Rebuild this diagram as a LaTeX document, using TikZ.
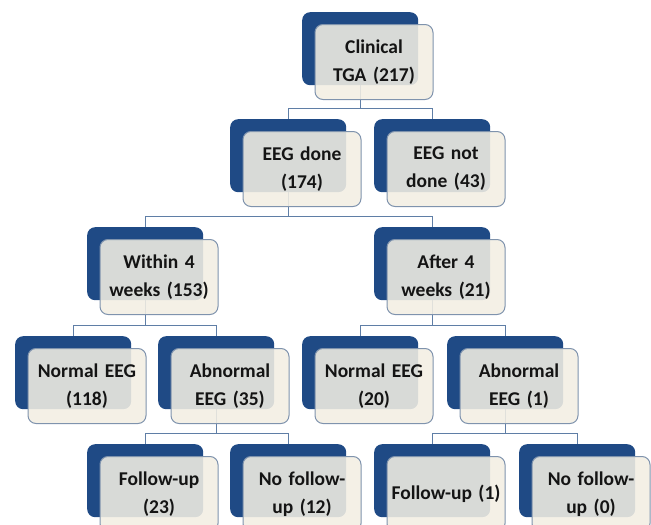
\documentclass[tikz,border=0pt]{standalone}
\usepackage{fontspec}
\setmainfont{Carlito}
\definecolor{backblue}{HTML}{1F4A85}
\definecolor{frontfill}{HTML}{F2EEE3}
\definecolor{frontline}{HTML}{7F93AD}
\definecolor{connline}{HTML}{5F7EA6}
\definecolor{txt}{HTML}{141414}
\tikzset{
  backbox/.style={anchor=north west, fill=backblue, rounded corners=8pt, minimum width=116pt, minimum height=73pt, inner sep=0pt},
  frontbox/.style={anchor=north west, fill=frontfill, fill opacity=0.88, text opacity=1, draw=frontline, line width=1pt, rounded corners=8pt, minimum width=118pt, minimum height=75pt, inner sep=0pt, text width=116pt, align=center, font=\bfseries\fontsize{19.5pt}{28pt}\selectfont, text=txt},
  conn/.style={draw=connline, line width=1pt}
}
\begin{document}
\begin{tikzpicture}[x=1pt,y=-1pt]
\useasboundingbox (0,0) rectangle (651,525);
\clip (0,0) rectangle (651,525);
% back boxes first
\foreach \n/\cx/\ty in {root/360/12, done/288/119, notdone/432/119, within/145/227, after/432/227, norma/73/336, abna/216/336, normb/360/336, abnb/505/336, fua/145/444, nfua/288/444, fub/432/444, nfub/577/444}
  \node[backbox] (b\n) at (\cx-58,\ty) {};
% connectors
\coordinate (h1) at ([yshift=11pt]bdone.north);
\draw[conn] (bdone.north) -- (h1) -| (bnotdone.north);
\draw[conn] (broot.south) -- (broot.south |- h1);
\coordinate (h2) at ([yshift=11pt]bwithin.north);
\draw[conn] (bwithin.north) -- (h2) -| (bafter.north);
\draw[conn] (bdone.south) -- (bdone.south |- h2);
\coordinate (h3) at ([yshift=11pt]bnorma.north);
\draw[conn] (bnorma.north) -- (h3) -| (babna.north);
\draw[conn] (bwithin.south) -- (bwithin.south |- h3);
\coordinate (h4) at ([yshift=11pt]bnormb.north);
\draw[conn] (bnormb.north) -- (h4) -| (babnb.north);
\draw[conn] (bafter.south) -- (bafter.south |- h4);
\coordinate (h5) at ([yshift=11pt]bfua.north);
\draw[conn] (bfua.north) -- (h5) -| (bnfua.north);
\draw[conn] (babna.south) -- (babna.south |- h5);
\coordinate (h6) at ([yshift=11pt]bfub.north);
\draw[conn] (bfub.north) -- (h6) -| (bnfub.north);
\draw[conn] (babnb.south) -- (babnb.south |- h6);
% front boxes
\node[frontbox] (froot) at ([xshift=12.5pt,yshift=-12pt]broot.north west) {Clinical\\TGA (217)};
\node[frontbox] (fdone) at ([xshift=12.5pt,yshift=-12pt]bdone.north west) {EEG done\\(174)};
\node[frontbox] (fnotdone) at ([xshift=12.5pt,yshift=-12pt]bnotdone.north west) {EEG not\\done (43)};
\node[frontbox] (fwithin) at ([xshift=12.5pt,yshift=-12pt]bwithin.north west) {Within 4\\weeks (153)};
\node[frontbox] (fafter) at ([xshift=12.5pt,yshift=-12pt]bafter.north west) {After 4\\weeks (21)};
\node[frontbox] (fnorma) at ([xshift=12.5pt,yshift=-12pt]bnorma.north west) {Normal EEG\\(118)};
\node[frontbox] (fabna) at ([xshift=12.5pt,yshift=-12pt]babna.north west) {Abnormal\\EEG (35)};
\node[frontbox] (fnormb) at ([xshift=12.5pt,yshift=-12pt]bnormb.north west) {Normal EEG\\(20)};
\node[frontbox] (fabnb) at ([xshift=12.5pt,yshift=-12pt]babnb.north west) {Abnormal\\EEG (1)};
\node[frontbox] (ffua) at ([xshift=12.5pt,yshift=-12pt]bfua.north west) {Follow-up\\(23)};
\node[frontbox] (fnfua) at ([xshift=12.5pt,yshift=-12pt]bnfua.north west) {No follow-\\up (12)};
\node[frontbox] (ffub) at ([xshift=12.5pt,yshift=-12pt]bfub.north west) {Follow-up (1)};
\node[frontbox] (fnfub) at ([xshift=12.5pt,yshift=-12pt]bnfub.north west) {No follow-\\up (0)};
\end{tikzpicture}
\end{document}
